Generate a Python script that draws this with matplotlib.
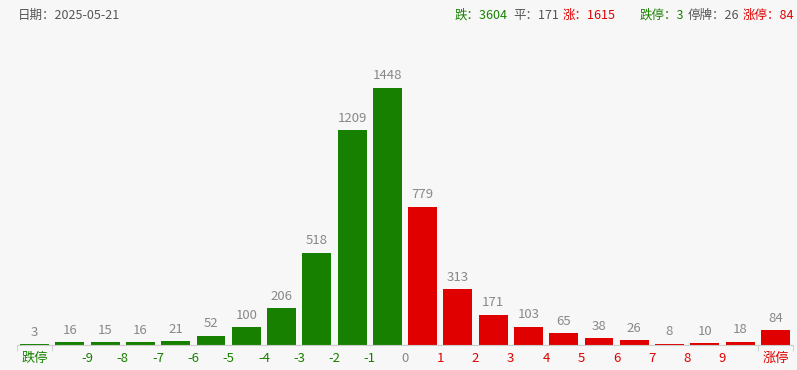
import matplotlib.pyplot as plt

plt.rcParams['font.family'] = ['Noto Sans CJK SC', 'DejaVu Sans']

counts = [3, 16, 15, 16, 21, 52, 100, 206, 518, 1209, 1448,
          779, 313, 171, 103, 65, 38, 26, 8, 10, 18, 84]
bar_colors = ['#188000'] * 11 + ['#e00000'] * 11
tick_labels = ['跌停', '-9', '-8', '-7', '-6', '-5', '-4', '-3', '-2', '-1',
               '0', '1', '2', '3', '4', '5', '6', '7', '8', '9', '涨停']
tick_pos = [0] + [i + 0.5 for i in range(1, 20)] + [21]
tick_colors = ['#188000'] * 10 + ['#888888'] + ['#e00000'] * 10

date_str = '2025-05-21'
header = [('跌：3604', '#188000', 455), ('平：171', '#555555', 513),
          ('涨：1615', '#e00000', 563), ('跌停：3', '#188000', 640),
          ('停牌：26', '#555555', 688), ('涨停：84', '#e00000', 743)]

BG = '#f7f7f7'
fig = plt.figure(figsize=(7.97, 3.70), dpi=100, facecolor=BG)
ax = fig.add_axes([17 / 797, 25 / 370, 776 / 797, 305 / 370], facecolor=BG)

x = list(range(len(counts)))
ax.bar(x, counts, width=0.82, color=bar_colors)
for xi, v in zip(x, counts):
    ax.annotate(str(v), (xi, v), xytext=(0, 4), textcoords='offset points',
                ha='center', va='bottom', fontsize=9.5, color='#888888')

ax.set_xlim(-0.5, 21.5)
ax.set_ylim(0, 1718)
for s in ['top', 'right', 'left']:
    ax.spines[s].set_visible(False)
ax.spines['bottom'].set_color('#cccccc')
ax.set_yticks([])

ax.set_xticks(tick_pos)
ax.set_xticklabels(tick_labels, fontsize=9.5)
ax.tick_params(axis='x', which='major', length=0, pad=5)
for lbl, c in zip(ax.get_xticklabels(), tick_colors):
    lbl.set_color(c)
ax.set_xticks([i - 0.5 for i in range(23)], minor=True)
ax.tick_params(axis='x', which='minor', length=4, color='#cccccc')

fig.text(18 / 797, 1 - 15 / 370, '日期：' + date_str, fontsize=9,
         color='#555555', va='center', ha='left')
for txt, c, px in header:
    fig.text(px / 797, 1 - 15 / 370, txt, fontsize=9, color=c,
             va='center', ha='left')

fig.savefig('out.png', dpi=100, facecolor=BG)
